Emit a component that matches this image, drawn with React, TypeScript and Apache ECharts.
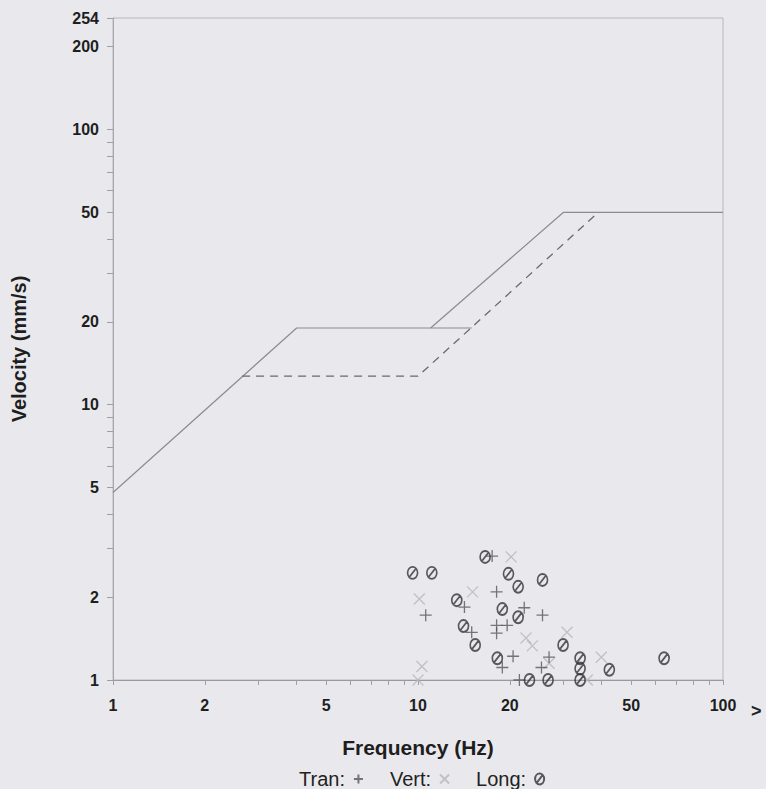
import { useEffect, useRef } from 'react';
import * as echarts from 'echarts';

// Axis label values
const freqLabels = [1, 2, 5, 10, 20, 50, 100];
const velLabels = [1, 2, 5, 10, 20, 50, 100, 200, 254];
const freqMinorTicks = [1, 2, 3, 4, 5, 6, 7, 8, 9, 10, 20, 30, 40, 50, 60, 70, 80, 90, 100];
const velMinorTicks = [1, 2, 3, 4, 5, 6, 7, 8, 9, 10, 20, 30, 40, 50, 60, 70, 80, 90, 100, 200, 254];

// Limit curves [frequency Hz, velocity mm/s]
const limitSolidLow = [[1, 4.8], [4, 19], [15, 19]];
const limitDashed = [[2.65, 12.7], [10, 12.7], [39, 50]];
const limitSolidHigh = [[11, 19], [30, 50], [100, 50]];

// Measured peaks [frequency Hz, velocity mm/s]
const tranPoints = [
  [17.5, 2.82], [18.1, 2.09], [10.6, 1.72], [14.2, 1.84], [22.3, 1.83],
  [25.6, 1.72], [18.1, 1.58], [19.6, 1.58], [18.1, 1.48], [15.0, 1.49],
  [20.5, 1.22], [18.9, 1.11], [26.9, 1.21], [25.4, 1.11], [21.5, 1.0],
];
const vertPoints = [
  [10.1, 1.97], [15.1, 2.09], [10.3, 1.12], [10.0, 1.0], [22.6, 1.42],
  [23.7, 1.33], [30.8, 1.49], [26.9, 1.15], [39.9, 1.21], [35.9, 1.0],
  [20.2, 2.8],
];
const longPoints = [
  [9.6, 2.45], [11.1, 2.45], [16.6, 2.8], [19.8, 2.43], [21.3, 2.18],
  [25.6, 2.31], [13.4, 1.95], [18.9, 1.81], [21.3, 1.69], [14.1, 1.57],
  [15.4, 1.34], [18.2, 1.2], [29.9, 1.34], [34.0, 1.2], [34.0, 1.1],
  [34.0, 1.0], [23.2, 1.0], [26.7, 1.0], [42.4, 1.09], [64.1, 1.2],
];

const FONT = '"Liberation Sans", Arial, sans-serif';
const plusSymbol = 'path://M5,0L5,10M0,5L10,5';
const crossSymbol = 'path://M0,0L10,10M10,0L0,10';
const slashOSymbol =
  'path://M5,0C7.8,0,10,2.7,10,6C10,9.3,7.8,12,5,12C2.2,12,0,9.3,0,6C0,2.7,2.2,0,5,0ZM1.5,10.5L8.5,1.5';

const log10 = (v: number) => Math.log10(v);
const fmt = (v: number) => String(Math.round(Math.pow(10, v)));

export default function App() {
  const ref = useRef<HTMLDivElement>(null);
  useEffect(() => {
    if (!ref.current) return;
    const chart = echarts.init(ref.current, undefined, { renderer: 'svg' });
    const option: any = {
      animation: false,
      backgroundColor: '#e9e9ed',
      grid: {
        left: 113, right: 43, top: 18, bottom: 109,
        show: true, borderColor: '#b8b8bc', borderWidth: 1,
      },
      xAxis: [
        {
          type: 'log', logBase: 10, min: 1, max: 100,
          axisLine: { show: true, lineStyle: { color: '#9a9a9e', width: 1 } },
          axisTick: { show: false }, axisLabel: { show: false },
          splitLine: { show: false }, minorTick: { show: false },
        },
        {
          type: 'value', min: 0, max: log10(100), position: 'bottom',
          name: 'Frequency (Hz)', nameLocation: 'middle', nameGap: 57,
          nameTextStyle: { fontFamily: FONT, fontSize: 21, fontWeight: 'bold', color: '#1e1e1e' },
          axisLine: { show: false },
          axisTick: {
            show: true, length: 5, inside: false,
            customValues: freqMinorTicks.map(log10),
            lineStyle: { color: '#a0a0a4' },
          },
          axisLabel: {
            show: true, margin: 17, customValues: freqLabels.map(log10), formatter: fmt,
            fontFamily: FONT, fontSize: 16, fontWeight: 'bold', color: '#1e1e1e',
          },
          splitLine: { show: false },
        },
      ],
      yAxis: [
        {
          type: 'log', logBase: 10, min: 1, max: 254,
          axisLine: { show: true, lineStyle: { color: '#a8a8ac', width: 1 } },
          axisTick: { show: false }, axisLabel: { show: false },
          splitLine: { show: false }, minorTick: { show: false },
        },
        {
          type: 'value', min: 0, max: log10(254), position: 'left',
          name: 'Velocity (mm/s)', nameLocation: 'middle', nameGap: 84,
          nameTextStyle: { fontFamily: FONT, fontSize: 20, fontWeight: 'bold', color: '#1e1e1e' },
          axisLine: { show: false },
          axisTick: {
            show: true, length: 6, inside: false,
            customValues: velMinorTicks.map(log10),
            lineStyle: { color: '#a0a0a4' },
          },
          axisLabel: {
            show: true, margin: 14, customValues: velLabels.map(log10), formatter: fmt,
            fontFamily: FONT, fontSize: 16, fontWeight: 'bold', color: '#1e1e1e',
          },
          splitLine: { show: false },
        },
      ],
      legend: {
        data: ['Tran', 'Vert', 'Long'],
        formatter: (n: string) => n + ':',
        align: 'right',
        left: 294, top: 764,
        itemWidth: 9, itemHeight: 11, itemGap: 26,
        textStyle: { fontFamily: FONT, fontSize: 20, color: '#222', padding: [0, 4, 0, 0] },
      },
      graphic: [
        {
          type: 'text', left: 751, top: 702,
          style: { text: '>', font: `bold 18px ${FONT}`, fill: '#222' },
        },
      ],
      series: [
        {
          type: 'line', data: limitSolidLow, symbol: 'none', silent: true,
          xAxisIndex: 0, yAxisIndex: 0,
          lineStyle: { color: '#8c8c90', width: 1.2 },
        },
        {
          type: 'line', data: limitSolidHigh, symbol: 'none', silent: true,
          xAxisIndex: 0, yAxisIndex: 0,
          lineStyle: { color: '#8c8c90', width: 1.2 },
        },
        {
          type: 'line', data: limitDashed, symbol: 'none', silent: true,
          xAxisIndex: 0, yAxisIndex: 0,
          lineStyle: { color: '#6a6a6e', width: 1.3, type: [8, 6] },
        },
        {
          name: 'Vert', type: 'scatter', data: vertPoints,
          xAxisIndex: 0, yAxisIndex: 0,
          symbol: crossSymbol, symbolSize: 11, z: 2,
          itemStyle: { color: 'rgba(0,0,0,0)', borderColor: '#b6b6ba', borderWidth: 1.3 },
        },
        {
          name: 'Tran', type: 'scatter', data: tranPoints,
          xAxisIndex: 0, yAxisIndex: 0,
          symbol: plusSymbol, symbolSize: 12, z: 3,
          itemStyle: { color: 'rgba(0,0,0,0)', borderColor: '#55555a', borderWidth: 1.3 },
        },
        {
          name: 'Long', type: 'scatter', data: longPoints,
          xAxisIndex: 0, yAxisIndex: 0,
          symbol: slashOSymbol, symbolSize: [10, 12], z: 4,
          itemStyle: { color: 'rgba(0,0,0,0)', borderColor: '#333336', borderWidth: 1.8 },
        },
      ],
    };
    chart.setOption(option);
    return () => chart.dispose();
  }, []);
  return (
    <div
      ref={ref}
      style={{ position: 'absolute', left: 0, top: 0, width: 766, height: 789 }}
    />
  );
}
